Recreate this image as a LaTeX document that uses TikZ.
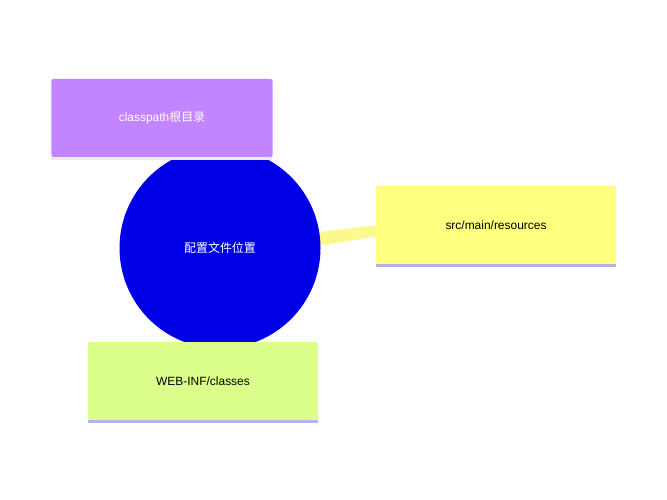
\documentclass[tikz,border=0pt]{standalone}
\usepackage{fontspec}
\setmainfont{Liberation Sans}
\newfontfamily\cjk{Noto Sans CJK SC}
\definecolor{topicblue}{HTML}{0000E6}
\definecolor{boxpurple}{HTML}{C384FF}
\definecolor{boxyellow}{HTML}{FFFF80}
\definecolor{boxgreen}{HTML}{DBFF8A}
\definecolor{lineyellow}{HTML}{FAFA8C}
\definecolor{shadelav}{HTML}{B8B0F0}
\definecolor{shadecream}{HTML}{E8F0C8}
\begin{document}
\begin{tikzpicture}[x=1bp,y=-1bp,
  topic/.style={rectangle,rounded corners=2bp,minimum width=#1,minimum height=78bp,font=\fontsize{12}{14}\selectfont},
  shade/.style={fill=#1,draw=none}]
\useasboundingbox (0,0) rectangle (667,500);
\fill[lineyellow] (318,232) -- (378,225) -- (378,236) -- (318,246) -- cycle;
\node[circle,fill=topicblue,minimum size=201bp,text=white,font=\fontsize{12}{14}\selectfont] (center) at (220,248) {\cjk 配置文件位置};
\node[topic=221bp,fill=boxpurple,text=white] (classpath) at (162,118) {classpath\cjk 根目录};
\node[topic=240bp,fill=boxyellow] (src) at (496,225) {src/main/resources};
\node[topic=230bp,fill=boxgreen] (webinf) at (203,381) {WEB-INF/classes};
\fill[shadecream] (classpath.south west) rectangle ++(221,3);
\fill[shadelav] (src.south west) rectangle ++(240,3);
\fill[shadelav] (webinf.south west) rectangle ++(230,3);
\end{tikzpicture}
\end{document}
